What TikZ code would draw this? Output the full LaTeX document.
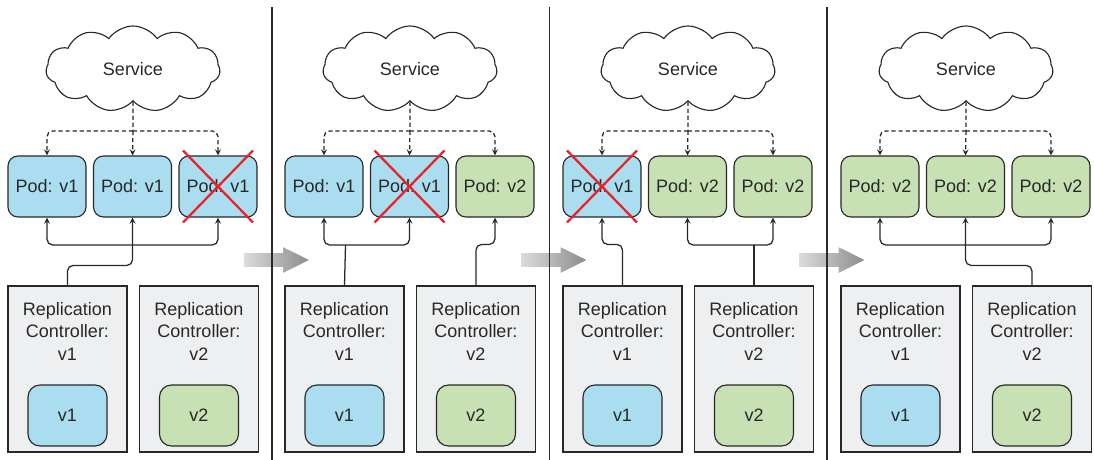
\documentclass[tikz,border=0pt]{standalone}
\usepackage{fontspec}
\setmainfont{Liberation Sans}
\usepackage{tikz}
\usetikzlibrary{shapes.symbols, shapes.arrows, arrows, calc}
\definecolor{podblue}{RGB}{170, 221, 239}
\definecolor{podgreen}{RGB}{200, 225, 180}
\definecolor{rcgray}{RGB}{238, 239, 241}
\definecolor{edgegray}{RGB}{40, 40, 40}
\definecolor{crossred}{RGB}{236, 32, 39}

\begin{document}
\begin{tikzpicture}[
    x=0.025cm, y=-0.025cm,
    font=\fontsize{12.8}{16}\selectfont, text=edgegray,
    svc/.style={cloud, cloud puffs=11, cloud puff arc=110, aspect=2, draw=edgegray, fill=white, line width=0.8pt, minimum width=4.35cm, minimum height=2.15cm},
    pod/.style={rectangle, draw=edgegray, line width=0.8pt, rounded corners=0.25cm, minimum width=1.95cm, minimum height=1.525cm, inner sep=0pt},
    podv1/.style={pod, fill=podblue},
    podv2/.style={pod, fill=podgreen},
    rcbox/.style={rectangle, draw=edgegray, line width=0.8pt, fill=rcgray, minimum width=2.975cm, minimum height=4.15cm, label={[anchor=north, align=center, yshift=-8.5pt]north:Replication\\Controller:\\#1}},
    tmplv1/.style={pod, fill=podblue, rounded corners=0.3cm, minimum width=1.975cm},
    tmplv2/.style={pod, fill=podgreen, rounded corners=0.3cm, minimum width=1.975cm},
    link/.style={draw=edgegray, line width=0.9pt, rounded corners=4pt, ->, >=stealth},
    dlink/.style={link, dash pattern=on 3pt off 2pt},
    cross/.style={draw=crossred, line width=1.6pt},
    shiftarrow/.style={single arrow, draw=none, left color=gray!28, right color=gray!90, minimum height=1.625cm, inner xsep=0pt, inner ysep=0.1625cm, single arrow head extend=0.15cm, single arrow tip angle=53},
    sep/.style={draw=edgegray, line width=1pt}
]
\useasboundingbox (0,0) rectangle (1094,460);

% Service, Replication Controllers
\foreach \n/\dx in {1/0, 2/277, 3/555, 4/833} {
  \node [svc] (svc\n) at (133+\dx, 69) {Service};
  \coordinate (top\n) at (133+\dx, 131);
  \node [rcbox=v1] (rca\n) at (67.5+\dx, 369) {};
  \node [rcbox=v2] (rcb\n) at (199+\dx, 369) {};
  \node [tmplv1] (tpa\n) at (67.5+\dx, 415.5) {v1};
  \node [tmplv2] (tpb\n) at (199+\dx, 415.5) {v2};
}

% Pods
\node [podv1] (pa1) at (47, 186.5) {Pod: v1};
\node [podv1] (pb1) at (132.5, 186.5) {Pod: v1};
\node [podv1] (pc1) at (218, 186.5) {Pod: v1};
\node [podv1] (pa2) at (324, 186.5) {Pod: v1};
\node [podv1] (pb2) at (409.5, 186.5) {Pod: v1};
\node [podv2] (pc2) at (495, 186.5) {Pod: v2};
\node [podv1] (pa3) at (602, 186.5) {Pod: v1};
\node [podv2] (pb3) at (687.5, 186.5) {Pod: v2};
\node [podv2] (pc3) at (773, 186.5) {Pod: v2};
\node [podv2] (pa4) at (880, 186.5) {Pod: v2};
\node [podv2] (pb4) at (965.5, 186.5) {Pod: v2};
\node [podv2] (pc4) at (1051, 186.5) {Pod: v2};

% Service -> Pods
\foreach \n in {1,...,4} {
  \draw [dlink, -] (svc\n.south) -- (top\n);
  \draw [dlink] (top\n) -| (pa\n.north);
  \draw [dlink] (top\n) -- (pb\n.north);
  \draw [dlink] (top\n) -| (pc\n.north);
}

% Replication Controllers -> Pods
\coordinate (low1) at (132.5, 245);
\draw [link] (rca1.north) -- ++(0,-20) -| (pb1.south);
\draw [link] (low1) -| (pa1.south);
\draw [link] (low1) -| (pc1.south);

\coordinate (low2) at (345.5, 245);
\draw [link, -] (rca2.north) -- (low2);
\draw [link] (low2) -| (pa2.south);
\draw [link] (low2) -| (pb2.south);
\draw [link] (rcb2.north) -- ++(0,-41) -| (pc2.south);

\coordinate (low3) at (754, 245);
\draw [link] (rca3.north) -- ++(0,-41) -| (pa3.south);
\draw [link, -] (rcb3.north) -- (low3);
\draw [link] (low3) -| (pb3.south);
\draw [link] (low3) -| (pc3.south);

\coordinate (low4) at (965.5, 245);
\draw [link] (rcb4.north) -- ++(0,-20) -| (pb4.south);
\draw [link] (low4) -| (pa4.south);
\draw [link] (low4) -| (pc4.south);

% Deleted pods
\draw [cross] (pc1.center) ++(-35,-36) -- ++(70,72) (pc1.center) ++(35,-36) -- ++(-70,72);
\draw [cross] (pb2.center) ++(-35,-36) -- ++(70,72) (pb2.center) ++(35,-36) -- ++(-70,72);
\draw [cross] (pa3.center) ++(-35,-36) -- ++(70,72) (pa3.center) ++(35,-36) -- ++(-70,72);

% Steps
\node [shiftarrow] (go1) at (269.5, 260) {};
\node [shiftarrow] (go2) at (547, 260) {};
\node [shiftarrow] (go3) at (825, 260) {};

\draw [sep] (272, 7) -- (272, 460);
\draw [sep] (549.5, 7) -- (549.5, 460);
\draw [sep] (827, 7) -- (827, 460);

\end{tikzpicture}
\end{document}
